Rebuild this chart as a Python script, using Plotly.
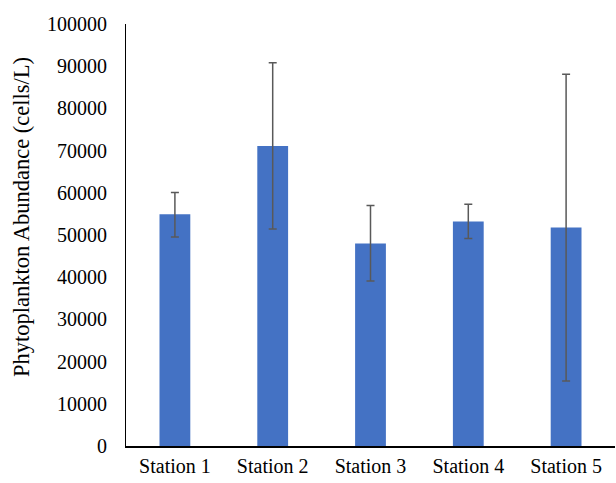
import plotly.graph_objects as go

stations = ["Station 1", "Station 2", "Station 3", "Station 4", "Station 5"]
abundance = [54900, 71100, 48000, 53200, 51800]
err_plus = [5200, 19700, 9000, 4100, 36300]
err_minus = [5400, 19700, 8900, 4000, 36400]
y_title = "Phytoplankton Abundance (cells/L)"

fig = go.Figure(go.Bar(
    x=stations, y=abundance,
    marker=dict(color="#4472C4", line=dict(width=0)),
    error_y=dict(type="data", symmetric=False, array=err_plus, arrayminus=err_minus,
                 color="#595959", thickness=1.5, width=4),
))

font = dict(family="Liberation Serif, Times New Roman, serif", size=20, color="black")
fig.update_layout(
    width=616, height=483,
    margin=dict(l=126, r=1, t=24, b=37),
    paper_bgcolor="white", plot_bgcolor="white",
    bargap=0.685,
    font=font,
    showlegend=False,
    xaxis=dict(showline=True, linecolor="black", linewidth=1.5, ticks="",
               showgrid=False, tickfont=font, ticklabelstandoff=1, automargin=False),
    yaxis=dict(range=[0, 100000], dtick=10000, tickformat="d", showline=True,
               linecolor="black", linewidth=1, ticks="", showgrid=False,
               zeroline=False, tickfont=font, ticklabelstandoff=14, automargin=False),
    annotations=[dict(text=y_title, xref="paper", yref="paper", x=0, y=0.5427,
                      xanchor="center", yanchor="middle", xshift=-104, textangle=-90,
                      showarrow=False, font=dict(family=font["family"], size=22.5, color="black"))],
)
fig.write_html("out.html", config={"displayModeBar": False},
               post_script="document.body.style.margin='0';document.body.style.overflow='hidden';")
